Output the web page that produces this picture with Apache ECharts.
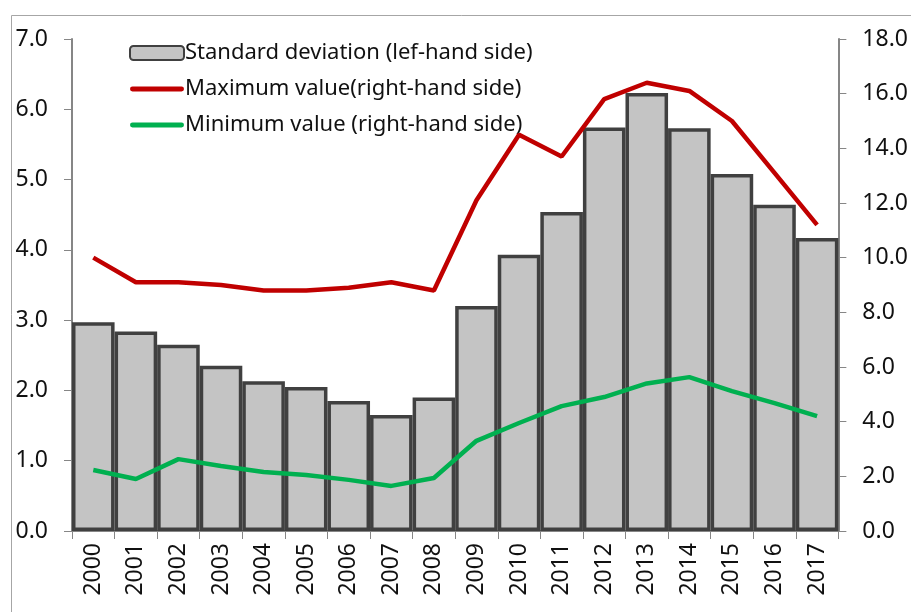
<!DOCTYPE html>
<html>
<head>
<meta charset="utf-8">
<script src="https://cdn.jsdelivr.net/npm/echarts@6/dist/echarts.min.js"></script>
<style>
  html, body { margin: 0; padding: 0; background: #fff; }
  #chart { width: 911px; height: 612px; }
</style>
</head>
<body>
<div id="chart"></div>
<script>
  // years on the x axis
  const years = ['2000','2001','2002','2003','2004','2005','2006','2007','2008',
                 '2009','2010','2011','2012','2013','2014','2015','2016','2017']
  // standard deviation, left axis
  const stdDev = [2.97, 2.84, 2.65, 2.35, 2.13, 2.05, 1.85, 1.65, 1.90,
                  3.20, 3.93, 4.54, 5.74, 6.23, 5.73, 5.08, 4.64, 4.17]
  // maximum value, right axis
  const maxVal = [10.0, 9.1, 9.1, 9.0, 8.8, 8.8, 8.9, 9.1, 8.8,
                  12.1, 14.5, 13.7, 15.8, 16.4, 16.1, 15.0, 13.1, 11.2]
  // minimum value, right axis
  const minVal = [2.23, 1.90, 2.63, 2.38, 2.16, 2.05, 1.87, 1.65, 1.94,
                  3.30, 3.95, 4.57, 4.90, 5.40, 5.63, 5.12, 4.68, 4.20]

  const font = '"Noto Sans", "Open Sans", sans-serif'
  const axisGrey = '#868686'
  const lineIcon = 'path://M2,0 L52,0 A2.5,2.5 0 0 1 52,5 L2,5 A2.5,2.5 0 0 1 2,0 Z'

  const chart = echarts.init(document.getElementById('chart'))
  chart.setOption({
    animation: false,
    textStyle: { fontFamily: font },
    graphic: [{
      type: 'rect',
      left: 9, top: 13,
      shape: { width: 1000, height: 1000 },
      style: { fill: 'none', stroke: '#a6a6a6', lineWidth: 1 },
      silent: true
    }],
    grid: { left: 72, right: 71, top: 39, bottom: 81 },
    legend: {
      orient: 'vertical',
      left: 124, top: 37,
      itemWidth: 54, itemHeight: 14,
      itemGap: 14,
      symbolKeepAspect: true,
      textStyle: { fontSize: 22, color: '#111', fontFamily: font, padding: [0, 0, 0, -4] },
      data: [
        { name: 'Standard deviation (lef-hand side)' },
        { name: 'Maximum value(right-hand side)', icon: lineIcon, itemStyle: { color: '#c00000' } },
        { name: 'Minimum value (right-hand side)', icon: lineIcon, itemStyle: { color: '#00b050' } }
      ]
    },
    xAxis: {
      type: 'category',
      data: years,
      boundaryGap: true,
      axisLine: { lineStyle: { color: axisGrey, width: 2 } },
      axisTick: { show: true, interval: 0, length: 8, lineStyle: { color: axisGrey } },
      axisLabel: { interval: 0, rotate: 90, fontSize: 23, color: '#111', margin: 12 }
    },
    yAxis: [{
      type: 'value',
      min: 0, max: 7, interval: 1,
      splitLine: { show: false },
      axisLine: { show: true, lineStyle: { color: axisGrey, width: 2 } },
      axisTick: { show: true, length: 8, lineStyle: { color: axisGrey } },
      axisLabel: { fontSize: 23, color: '#111', margin: 24, formatter: v => v.toFixed(1) }
    }, {
      type: 'value',
      min: 0, max: 18, interval: 2,
      position: 'right',
      splitLine: { show: false },
      axisLine: { show: true, lineStyle: { color: axisGrey, width: 2 } },
      axisTick: { show: true, length: 8, lineStyle: { color: axisGrey } },
      axisLabel: { fontSize: 23, color: '#111', margin: 24, formatter: v => v.toFixed(1) }
    }],
    series: [{
      name: 'Standard deviation (lef-hand side)',
      type: 'bar',
      data: stdDev,
      barCategoryGap: '0%',
      itemStyle: { color: '#c4c4c4', borderColor: '#404040', borderWidth: 3.5 }
    }, {
      name: 'Maximum value(right-hand side)',
      type: 'line',
      yAxisIndex: 1,
      data: maxVal,
      symbol: 'none',
      lineStyle: { color: '#c00000', width: 4.5 },
      itemStyle: { color: '#c00000' },
      z: 5
    }, {
      name: 'Minimum value (right-hand side)',
      type: 'line',
      yAxisIndex: 1,
      data: minVal,
      symbol: 'none',
      lineStyle: { color: '#00b050', width: 4.5 },
      itemStyle: { color: '#00b050' },
      z: 5
    }]
  })
</script>
</body>
</html>
